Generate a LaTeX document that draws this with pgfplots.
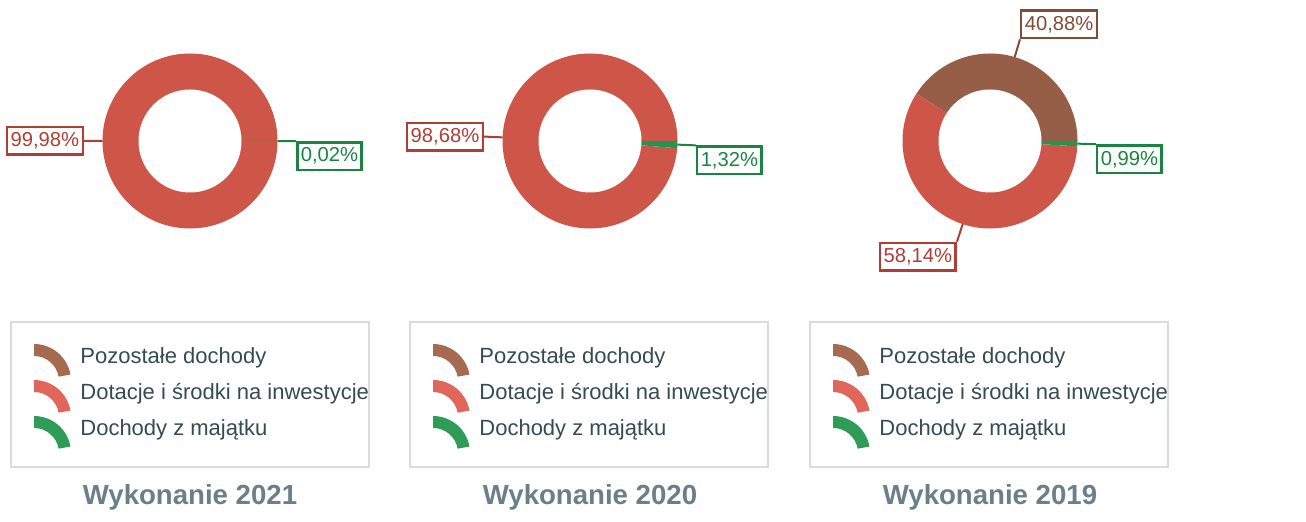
\documentclass[border=0pt]{standalone}
\usepackage{pgfplots}
\pgfplotsset{compat=1.18}
\usepackage{pgfplotstable}
\usepackage{fontspec}
\setmainfont{Liberation Sans}

\definecolor{ringpoz}{RGB}{150,94,70}
\definecolor{ringdot}{RGB}{206,86,72}
\definecolor{ringmaj}{RGB}{36,148,80}
\definecolor{legpoz}{RGB}{166,106,80}
\definecolor{legdot}{RGB}{224,102,90}
\definecolor{legmaj}{RGB}{46,156,86}
\definecolor{labpoz}{RGB}{132,76,56}
\definecolor{labdot}{RGB}{176,62,52}
\definecolor{labmaj}{RGB}{26,132,66}
\definecolor{legtext}{RGB}{50,76,82}
\definecolor{titletext}{RGB}{105,128,138}

% shares in %, one row per year; cx = centre of the donut (px)
\pgfplotstableread{
year cx  poz    dot    maj
2021 190 0.00   99.98  0.02
2020 590 0.00   98.68  1.32
2019 990 40.88  58.14  0.99
}\shares

\foreach \i in {0,1,2}{
  \foreach \c in {cx,poz,dot,maj}{
    \pgfplotstablegetelem{\i}{\c}\of\shares
    \expandafter\xdef\csname d\c\i\endcsname{\pgfplotsretval}
  }
}
\newcommand\val[2]{\csname d#1#2\endcsname}
\newcommand\pct[1]{\pgfmathprintnumber[fixed,fixed zerofill,precision=2,use comma,assume math mode=true]{#1}\%}

\def\Ro{43.75pt}% outer radius
\def\Ri{25.75pt}% inner radius
\def\cy{141}

\tikzset{
  lab/.style={draw=#1, line width=1.25pt, fill=white, text=#1,
    font=\fontsize{10.1}{12}\selectfont, inner xsep=1.8pt, inner ysep=1.5pt,
    minimum height=13.8pt},
}

% #1 row, #2/#3/#4 label anchors for poz/dot/maj
\newcommand\donut[4]{%
  \ifdim\val{poz}{#1}pt>0pt
    \fill[ringpoz] (axis cs:\val{cx}{#1},\cy) -- ++(0:\Ro)
      arc[start angle=0, end angle={3.6*\val{poz}{#1}}, radius=\Ro] -- cycle;
  \fi
  \fill[ringdot] (axis cs:\val{cx}{#1},\cy) -- ++({3.6*\val{poz}{#1}}:\Ro)
    arc[start angle={3.6*\val{poz}{#1}}, end angle={3.6*(\val{poz}{#1}+\val{dot}{#1})}, radius=\Ro] -- cycle;
  \fill[ringmaj] (axis cs:\val{cx}{#1},\cy) -- ++({3.6*(\val{poz}{#1}+\val{dot}{#1})}:\Ro)
    arc[start angle={3.6*(\val{poz}{#1}+\val{dot}{#1})}, end angle=360, radius=\Ro] -- cycle;
  \fill[white] (axis cs:\val{cx}{#1},\cy) circle[radius=\Ri];
  \ifdim\val{poz}{#1}pt>0pt
    \draw[labpoz, line width=1pt] (axis cs:\val{cx}{#1},\cy) ++({1.8*\val{poz}{#1}}:\Ro)
      -- ++({1.8*\val{poz}{#1}}:9.25pt)
      node[lab=labpoz, anchor=#2] {\pct{\val{poz}{#1}}};
  \fi
  \draw[labdot, line width=1pt] (axis cs:\val{cx}{#1},\cy) ++({3.6*\val{poz}{#1}+1.8*\val{dot}{#1}}:\Ro)
    -- ++({3.6*\val{poz}{#1}+1.8*\val{dot}{#1}}:9.25pt)
    node[lab=labdot, anchor=#3] {\pct{\val{dot}{#1}}};
  \draw[labmaj, line width=1pt] (axis cs:\val{cx}{#1},\cy) ++({3.6*(\val{poz}{#1}+\val{dot}{#1})+1.8*\val{maj}{#1}}:\Ro)
    -- ++({3.6*(\val{poz}{#1}+\val{dot}{#1})+1.8*\val{maj}{#1}}:9.25pt)
    node[lab=labmaj, anchor=#4] {\pct{\val{maj}{#1}}};
}

% legend icon: #1 colour, #2 x, #3 row centre y
\newcommand\legicon[3]{%
  \fill[#1] (axis cs:#2,#3+23) ++(90:18.5pt)
    arc[start angle=90, end angle=10, radius=18.5pt] -- ++(190:6pt)
    arc[start angle=10, end angle=90, radius=12.5pt] -- cycle;
}
% legend box at left x #1
\newcommand\legbox[1]{%
  \draw[black!14, line width=0.6pt] (axis cs:#1,322) rectangle (axis cs:#1+358,467);
  \legicon{legpoz}{#1+23}{358}
  \legicon{legdot}{#1+23}{394}
  \legicon{legmaj}{#1+23}{430}
  \node[anchor=west, text=legtext, font=\fontsize{11}{13}\selectfont, inner sep=0pt]
    at (axis cs:#1+69,358) {Pozostałe dochody};
  \node[anchor=west, text=legtext, font=\fontsize{11}{13}\selectfont, inner sep=0pt]
    at (axis cs:#1+69,394) {Dotacje i środki na inwestycje};
  \node[anchor=west, text=legtext, font=\fontsize{11}{13}\selectfont, inner sep=0pt]
    at (axis cs:#1+69,430) {Dochody z majątku};
}

\begin{document}
\begin{tikzpicture}
\begin{axis}[
    hide axis,
    scale only axis,
    width=653pt, height=261pt,
    xmin=0, xmax=1306, ymin=0, ymax=522,
    y dir=reverse,
    clip=false,
  ]
\addplot[draw=none] coordinates {(0,0) (1306,522)};

\donut{0}{south west}{east}{north west}
\donut{1}{south west}{east}{north west}
\donut{2}{south west}{north east}{north west}

\legbox{11}
\legbox{410}
\legbox{810}

\node[text=titletext, font=\fontsize{13.8}{16}\selectfont\bfseries] at (axis cs:\val{cx}{0},497) {Wykonanie 2021};
\node[text=titletext, font=\fontsize{13.8}{16}\selectfont\bfseries] at (axis cs:\val{cx}{1},497) {Wykonanie 2020};
\node[text=titletext, font=\fontsize{13.8}{16}\selectfont\bfseries] at (axis cs:\val{cx}{2},497) {Wykonanie 2019};
\end{axis}
\end{tikzpicture}
\end{document}
